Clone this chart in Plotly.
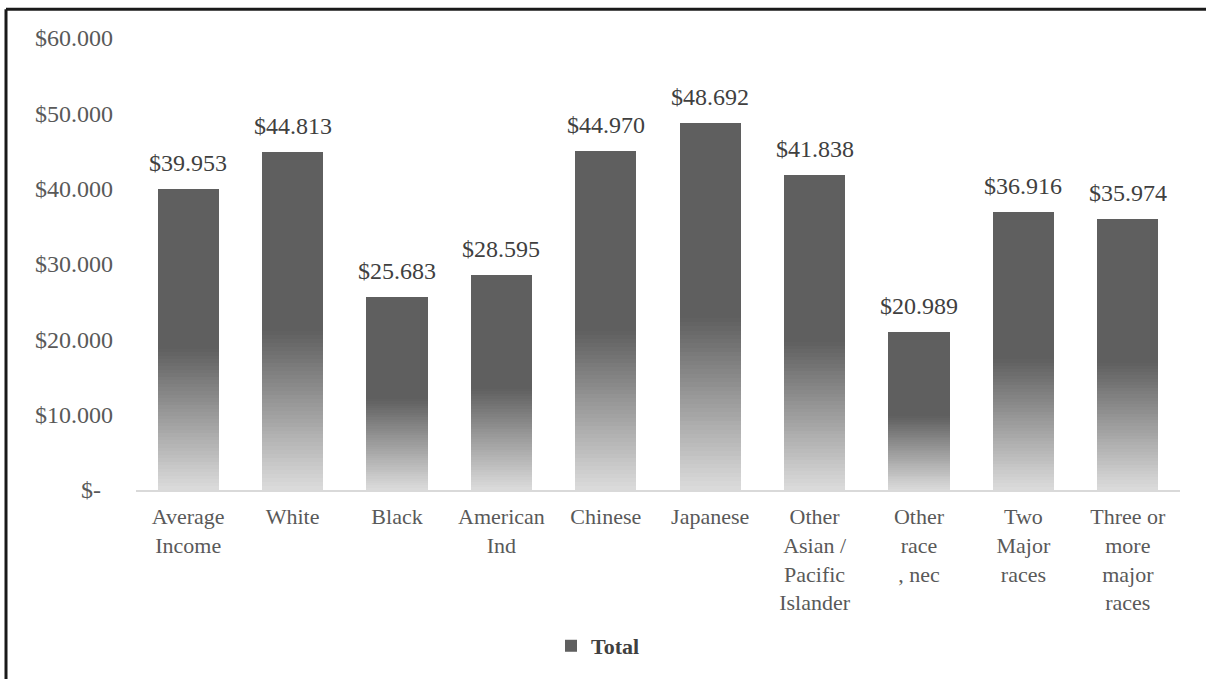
import plotly.graph_objects as go

categories = ["Average<br>Income", "White", "Black", "American<br>Ind", "Chinese",
              "Japanese", "Other<br>Asian /<br>Pacific<br>Islander", "Other<br>race<br>, nec",
              "Two<br>Major<br>races", "Three or<br>more<br>major<br>races"]
values = [39953, 44813, 25683, 28595, 44970, 48692, 41838, 20989, 36916, 35974]
tick_vals = [0, 10000, 20000, 30000, 40000, 50000, 60000]
tick_text = ["$-\u00a0\u00a0", "$10.000", "$20.000", "$30.000", "$40.000", "$50.000", "$60.000"]
series_name = "Total"

FONT = "Liberation Serif"
W, H = 1206, 679
L, R, T, B = 136, 26, 38, 186

# gradient: light at bottom, dark from ~47% of bar height upward
grad_frac = 0.47
n_steps = 40
light = (220, 220, 220)
dark = (95, 95, 95)

fig = go.Figure()
for i in range(n_steps):
    t = (i + 0.5) / n_steps
    c = tuple(int(round(light[k] + (dark[k] - light[k]) * t)) for k in range(3))
    fig.add_trace(go.Bar(
        x=categories, y=[v * grad_frac / n_steps for v in values],
        marker=dict(color=f"rgb{c}", line=dict(width=0)),
        showlegend=False, hoverinfo="skip"))
fig.add_trace(go.Bar(
    x=categories, y=[v * (1 - grad_frac) for v in values],
    marker=dict(color=f"rgb{dark}", line=dict(width=0)),
    name="<b>" + series_name + "</b>", showlegend=True))

labels = ["$" + f"{v:,}".replace(",", ".") for v in values]
for cat, v, lab in zip(categories, values, labels):
    fig.add_annotation(x=cat, y=v, text=lab, showarrow=False, yanchor="middle",
                       yshift=26, font=dict(family=FONT, size=24, color="#404040"))

def px_x(p):
    return (p - L) / (W - L - R)

def px_y(p):
    return (H - B - p) / (H - T - B)

fig.add_shape(type="line", xref="paper", yref="paper",
              x0=px_x(6), x1=px_x(1210), y0=px_y(9), y1=px_y(9),
              line=dict(color="#1a1a1a", width=3))
fig.add_shape(type="line", xref="paper", yref="paper",
              x0=px_x(6), x1=px_x(6), y0=px_y(9), y1=px_y(685),
              line=dict(color="#1a1a1a", width=3))

fig.update_layout(
    width=W, height=H, barmode="stack", bargap=0.413,
    margin=dict(l=L, r=R, t=T, b=B),
    paper_bgcolor="white", plot_bgcolor="white",
    font=dict(family=FONT, size=24, color="#595959"),
    legend=dict(orientation="h", x=px_x(598), y=px_y(650), xanchor="center",
                yanchor="middle", font=dict(family=FONT, size=22, color="#404040"),
                itemwidth=30),
    xaxis=dict(showgrid=False, showline=True, linecolor="#d9d9d9", linewidth=2,
               ticks="", tickfont=dict(size=22, color="#595959"), tickangle=0,
               ticklabelstandoff=6),
    yaxis=dict(range=[0, 60000], tickvals=tick_vals, ticktext=tick_text,
               showgrid=False, zeroline=False, showline=False, ticks="",
               tickfont=dict(size=24, color="#595959"), ticklabelstandoff=22),
)
fig.write_html("out.html")
